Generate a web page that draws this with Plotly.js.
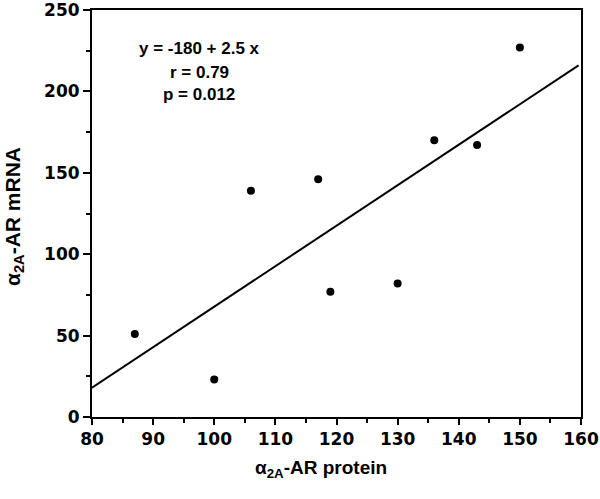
<!DOCTYPE html>
<html>
<head>
<meta charset="utf-8">
<script src="https://cdn.plot.ly/plotly-3.0.1.min.js"></script>
<style>html,body{margin:0;padding:0;background:#fff;}#chart{width:600px;height:499px;}</style>
</head>
<body>
<div id="chart"></div>
<script>
const proteinX = [87, 100, 106, 117, 119, 130, 136, 143, 150];
const mrnaY = [51, 23, 139, 146, 77, 82, 170, 167, 227];
const fitX = [80, 159.6];
const fitY = [18, 216];
const xTicks = [80, 90, 100, 110, 120, 130, 140, 150, 160];
const yTicks = [0, 50, 100, 150, 200, 250];
const statsLines = ["y = -180 + 2.5 x", "r = 0.79", "p = 0.012"];

const FONT = "Liberation Sans, Arial, sans-serif";
const TICKFONT = "DejaVu Sans, Liberation Sans, sans-serif";

const traces = [
  {x: fitX, y: fitY, mode: "lines", type: "scatter", line: {color: "#000", width: 2}, hoverinfo: "skip", showlegend: false},
  {x: proteinX, y: mrnaY, mode: "markers", type: "scatter", marker: {color: "#000", size: 8}, showlegend: false}
];

const axisCommon = {
  showgrid: false, zeroline: false, showline: true, linecolor: "#000", linewidth: 2,
  mirror: true, ticks: "outside", tickcolor: "#000", tickwidth: 2,
  ticklabeloverflow: "allow",
  tickfont: {family: TICKFONT, size: 17, color: "#000", weight: "bold"}
};

const statsY = [49, 72, 94];
const statsAnn = statsLines.map((t, i) => ({
  text: t, xref: "paper", yref: "paper", x: (199 - 92) / 489, y: (417 - statsY[i]) / 407,
  xanchor: "center", yanchor: "middle", showarrow: false,
  font: {family: FONT, size: 17, color: "#000", weight: "bold"}
}));

const layout = {
  width: 600, height: 499,
  margin: {l: 92, r: 19, t: 10, b: 82},
  paper_bgcolor: "#fff", plot_bgcolor: "#fff",
  font: {family: FONT, color: "#000"},
  xaxis: Object.assign({}, axisCommon, {
    range: [80, 160], tickvals: xTicks, ticktext: xTicks.map(String), ticklen: 6,
    minor: {ticks: "outside", ticklen: 4, tickwidth: 2, tickcolor: "#000", dtick: 5, tick0: 80}
  }),
  yaxis: Object.assign({}, axisCommon, {
    range: [0, 250], tickvals: yTicks, ticktext: yTicks.map(String), ticklen: 7,
    minor: {ticks: "outside", ticklen: 4, tickwidth: 2, tickcolor: "#000", dtick: 25, tick0: 0}
  }),
  annotations: statsAnn.concat([
    {text: "α<sub>2A</sub>-AR protein", xref: "paper", yref: "paper", x: (321 - 92) / 489, y: -(469 - 417) / 407,
     xanchor: "center", yanchor: "middle", showarrow: false,
     font: {family: FONT, size: 19, color: "#000", weight: "bold"}},
    {text: "α<sub>2A</sub>-AR mRNA", xref: "paper", yref: "paper", x: -(92 - 14) / 489, y: (417 - 217) / 407,
     xanchor: "center", yanchor: "middle", showarrow: false, textangle: -90,
     font: {family: FONT, size: 21, color: "#000", weight: "bold"}}
  ])
};

Plotly.newPlot("chart", traces, layout, {displayModeBar: false, staticPlot: true});
</script>
</body>
</html>
